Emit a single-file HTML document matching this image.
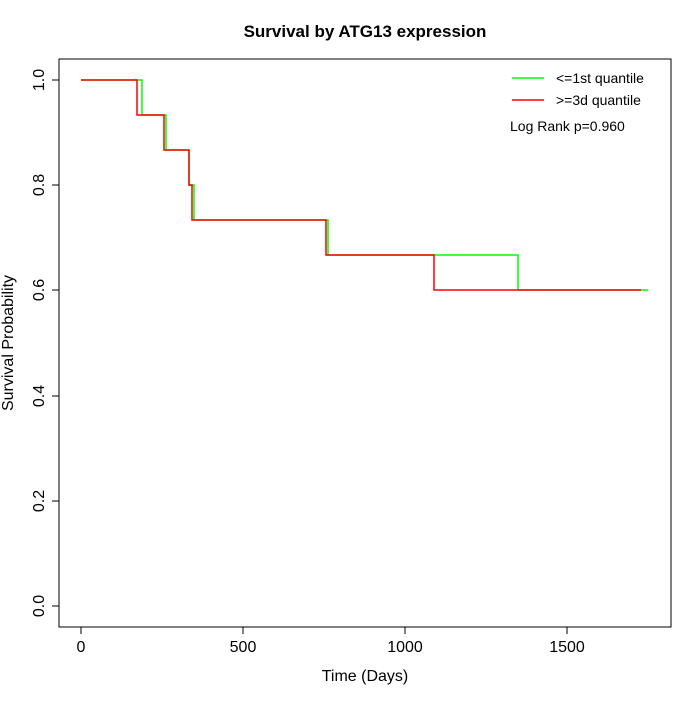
<!DOCTYPE html><html><head><style>body{margin:0;background:#fff}</style></head><body>
<svg width="700" height="700" xmlns="http://www.w3.org/2000/svg" font-family="Liberation Sans, sans-serif">
<rect x="59" y="59" width="612" height="568" fill="none" stroke="#000"/>
<text x="365" y="37" text-anchor="middle" font-weight="bold" font-size="17">Survival by ATG13 expression</text>
<g stroke="#000"><line x1="81" y1="627" x2="567" y2="627"/>
<line x1="81" y1="627" x2="81" y2="634"/><line x1="243" y1="627" x2="243" y2="634"/><line x1="405" y1="627" x2="405" y2="634"/><line x1="567" y1="627" x2="567" y2="634"/>
<line x1="59" y1="80" x2="59" y2="606"/>
<line x1="52" y1="80" x2="59" y2="80"/><line x1="52" y1="185" x2="59" y2="185"/><line x1="52" y1="290" x2="59" y2="290"/><line x1="52" y1="396" x2="59" y2="396"/><line x1="52" y1="501" x2="59" y2="501"/><line x1="52" y1="606" x2="59" y2="606"/></g>
<g font-size="16" text-anchor="middle"><text x="81" y="652">0</text><text x="243" y="652">500</text><text x="405" y="652">1000</text><text x="567" y="652">1500</text>
<text x="365" y="681">Time (Days)</text></g>
<g font-size="16" text-anchor="middle">
<text transform="translate(44,80) rotate(-90)">1.0</text><text transform="translate(44,185) rotate(-90)">0.8</text><text transform="translate(44,290) rotate(-90)">0.6</text><text transform="translate(44,396) rotate(-90)">0.4</text><text transform="translate(44,501) rotate(-90)">0.2</text><text transform="translate(44,606) rotate(-90)">0.0</text>
<text transform="translate(13,343) rotate(-90)">Survival Probability</text></g>
<polyline fill="none" stroke="#00ff00" stroke-width="1.5" points="81,80 142,80 142,115 166,115 166,150 189,150 189,185 194,185 194,220 328,220 328,255 518,255 518,290 648,290"/>
<polyline fill="none" stroke="#ff0000" stroke-width="1.5" points="81,80 137,80 137,115 164,115 164,150 189,150 189,185 192,185 192,220 326,220 326,255 434,255 434,290 641,290"/>
<line x1="512" y1="78" x2="544" y2="78" stroke="#00ff00" stroke-width="1.5"/>
<line x1="512" y1="100" x2="544" y2="100" stroke="#ff0000" stroke-width="1.5"/>
<g font-size="14"><text x="556" y="83">&lt;=1st quantile</text><text x="556" y="105">&gt;=3d quantile</text><text x="510" y="131">Log Rank p=0.960</text></g>
</svg></body></html>
